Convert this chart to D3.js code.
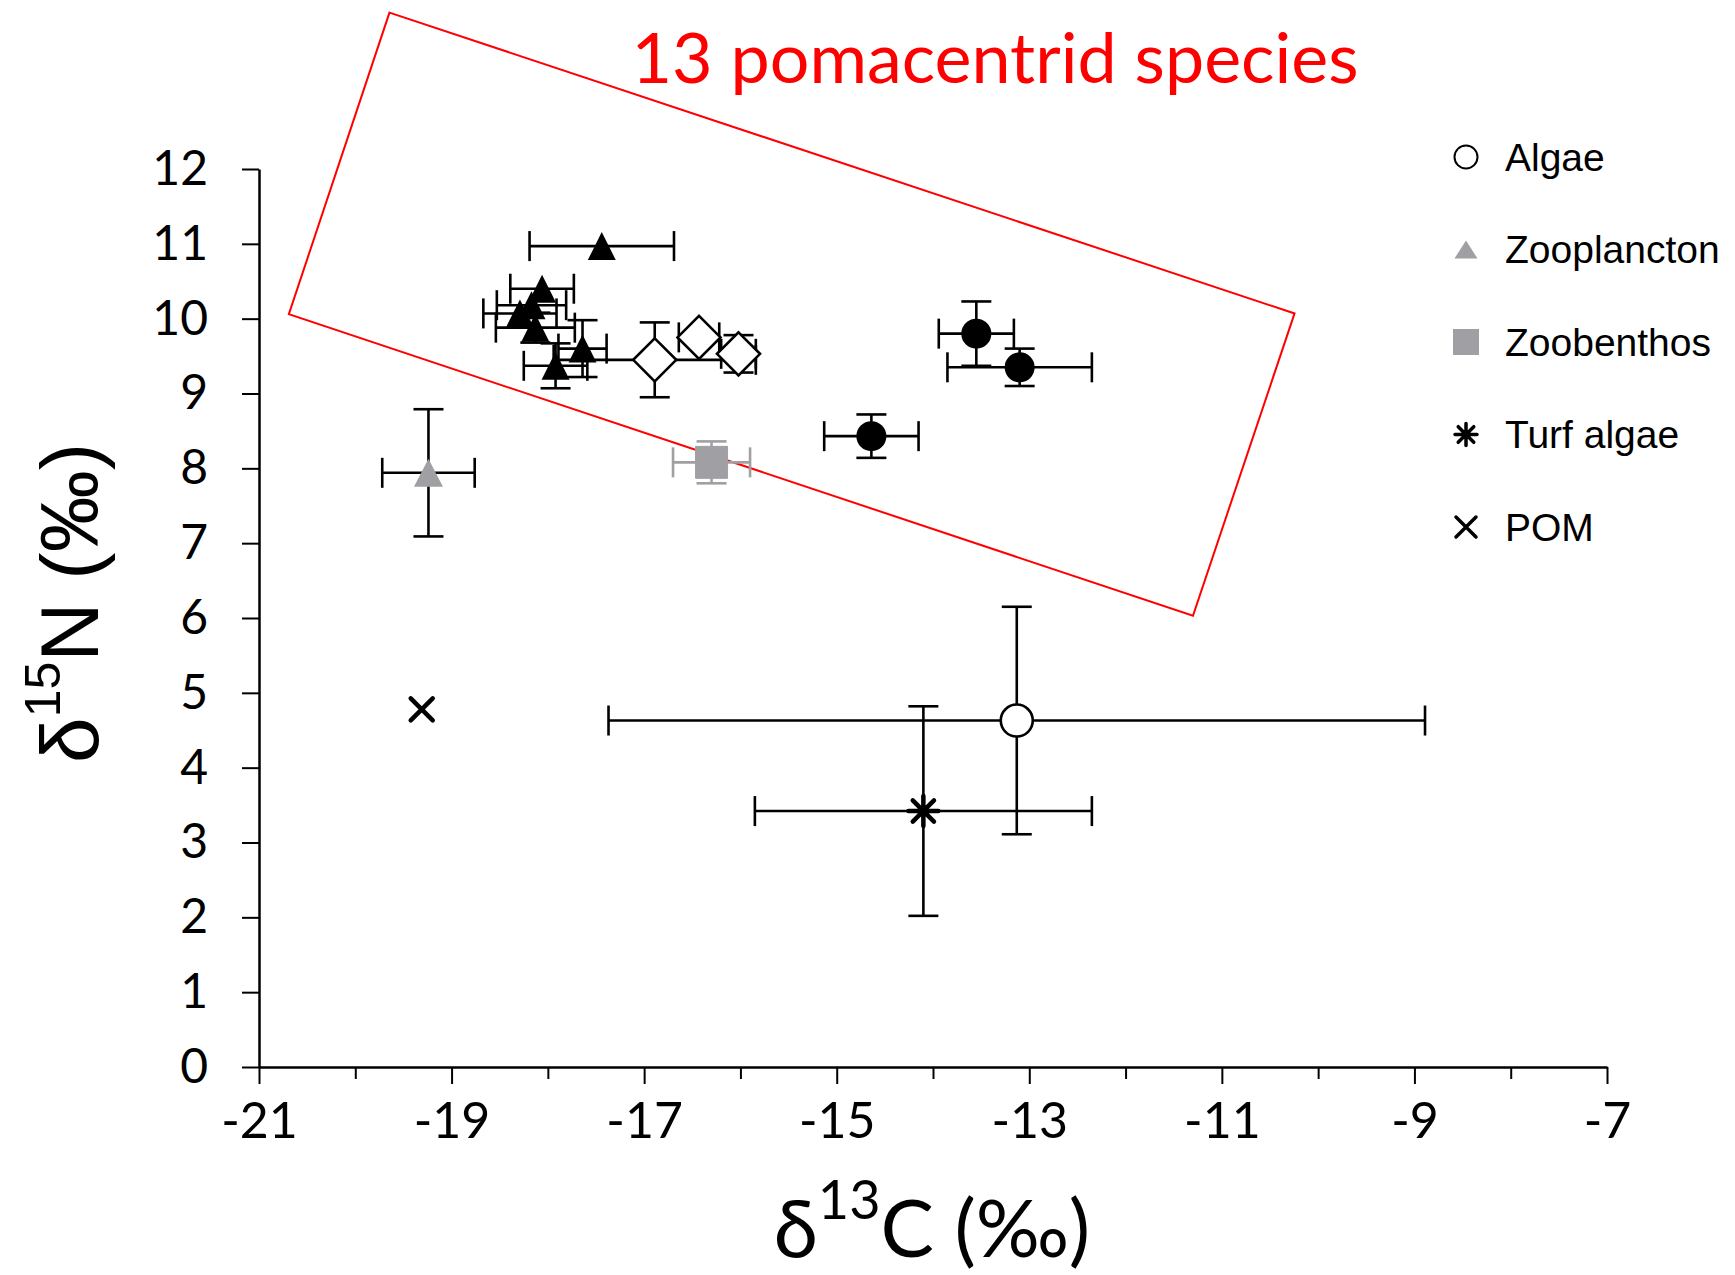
<!DOCTYPE html>
<html><head>
<meta charset="utf-8">
<title>d13C vs d15N - pomacentrids</title>
<script src="https://d3js.org/d3.v7.min.js"></script>
<style>
  body { margin: 0; background: #fff; }
  .axis path, .axis line { stroke: #000; }
  .axis text { font-family: Lato, sans-serif; fill: #000; }
  .legend text { font-family: "Liberation Sans", Arial, sans-serif; font-size: 39px; fill: #000; }
</style>
</head>
<body>
<svg id="chart" width="1735" height="1275"></svg>

<script>
// values: x = d13C, y = d15N, with +/- SD
const pomaTriangles = [
  { x: -17.44, y: 10.97, xerr: 0.75, yerr: 0 },
  { x: -18.06, y: 10.40, xerr: 0.33, yerr: 0 },
  { x: -18.17, y: 10.18, xerr: 0.36, yerr: 0 },
  { x: -18.29, y: 10.07, xerr: 0.38, yerr: 0 },
  { x: -18.13, y: 9.88, xerr: 0.41, yerr: 0.20 },
  { x: -17.64, y: 9.60, xerr: 0.25, yerr: 0.38 },
  { x: -17.92, y: 9.37, xerr: 0.33, yerr: 0.30 }
];
const pomaDiamonds = [
  { x: -16.89, y: 9.45, xerr: 1.05, yerr: 0.50 },
  { x: -16.43, y: 9.75, xerr: 0.21, yerr: 0 },
  { x: -16.02, y: 9.53, xerr: 0.18, yerr: 0.25 }
];
const pomaCircles = [
  { x: -13.55, y: 9.80, xerr: 0.39, yerr: 0.43 },
  { x: -13.10, y: 9.35, xerr: 0.75, yerr: 0.25 },
  { x: -14.64, y: 8.43, xerr: 0.49, yerr: 0.29 }
];
const zooplancton = [ { x: -19.24, y: 7.94, xerr: 0.48, yerr: 0.85 } ];
const zoobenthos  = [ { x: -16.30, y: 8.08, xerr: 0.40, yerr: 0.28 } ];
const algae       = [ { x: -13.13, y: 4.63, xerr: 4.24, yerr: 1.52 } ];
const turfAlgae   = [ { x: -14.10, y: 3.42, xerr: 1.75, yerr: 1.40 } ];
const pom         = [ { x: -19.31, y: 4.78, xerr: 0, yerr: 0 } ];

const legendLabels = ["Algae", "Zooplancton", "Zoobenthos", "Turf algae", "POM"];
const xTickLabels = [-21, -19, -17, -15, -13, -11, -9, -7];
const xMinorTicks = [-20, -18, -16, -14, -12, -10, -8];
const yTickLabels = [0, 1, 2, 3, 4, 5, 6, 7, 8, 9, 10, 11, 12];
// corners of the red "13 species" box, in data units
const boxCorners = [[-19.645, 14.09], [-10.245, 10.07], [-11.30, 6.03], [-20.69, 10.06]];

const svg = d3.select("#chart");
const margin = { left: 259, right: 128, top: 169, bottom: 208 };
const W = +svg.attr("width"), H = +svg.attr("height");
const grey = "#a0a0a4";

const x = d3.scaleLinear().domain([-21, -7]).range([margin.left, W - margin.right]);
const y = d3.scaleLinear().domain([0, 12]).range([H - margin.bottom, margin.top]);

// red annotation box + title
svg.append("path")
   .attr("d", d3.line().x(d => x(d[0])).y(d => y(d[1]))(boxCorners) + "Z")
   .attr("fill", "none").attr("stroke", "#ff0000").attr("stroke-width", 2);

svg.append("text").attr("x", 995).attr("y", 83)
   .attr("text-anchor", "middle")
   .style("font-family", "Lato, sans-serif").style("font-size", "70px")
   .attr("fill", "#ff0000")
   .text("13 pomacentrid species");

// axes (plain hyphen for negatives, like the original)
let yAxis = svg.append("g").attr("class", "axis")
               .attr("transform", "translate(" + margin.left + ",0)")
               .call(d3.axisLeft(y).tickValues(yTickLabels).tickSize(17).tickSizeOuter(0).tickPadding(34));
yAxis.select(".domain").attr("stroke-width", 2.5);
yAxis.selectAll(".tick line").attr("stroke-width", 2);
yAxis.selectAll(".tick text").style("font-size", "48px");

let xAxisMinor = svg.append("g").attr("class", "axis")
                    .attr("transform", "translate(0," + y(0) + ")")
                    .call(d3.axisBottom(x).tickValues(xMinorTicks).tickSize(12).tickSizeOuter(0).tickFormat(""));
xAxisMinor.selectAll(".tick line").attr("stroke-width", 2);

let xAxis = svg.append("g").attr("class", "axis")
               .attr("transform", "translate(0," + y(0) + ")")
               .call(d3.axisBottom(x).tickValues(xTickLabels).tickSize(17).tickSizeOuter(0).tickPadding(18)
                       .tickFormat(d => String(d)));
xAxis.select(".domain").attr("stroke-width", 2.5);
xAxis.selectAll(".tick line").attr("stroke-width", 2);
xAxis.selectAll(".tick text").style("font-size", "50px");

// axis titles
let yTitle = svg.append("text")
                .attr("transform", "translate(98,603) rotate(-90)")
                .attr("text-anchor", "middle")
                .style("font-family", "'Liberation Sans', Arial, sans-serif").style("font-size", "82px");
yTitle.append("tspan").text("δ");
yTitle.append("tspan").attr("dy", -38).style("font-size", "50px").text("15");
yTitle.append("tspan").attr("dy", 38).text("N (‰)");

let xTitle = svg.append("text")
                .attr("x", 932).attr("y", 1257)
                .attr("text-anchor", "middle")
                .style("font-family", "Lato, sans-serif").style("font-size", "80px");
xTitle.append("tspan").text("δ");
xTitle.append("tspan").attr("dy", -38).style("font-size", "54px").text("13");
xTitle.append("tspan").attr("dy", 38).text("C (‰)");

// error bars (drawn before markers so markers sit on top)
const cap = 15;
function errorBars(data, color) {
  let g = svg.append("g").attr("stroke", color).attr("stroke-width", 2.6).attr("fill", "none");
  data.forEach(d => {
    let cx = x(d.x), cy = y(d.y);
    if (d.xerr > 0) {
      let x0 = x(d.x - d.xerr), x1 = x(d.x + d.xerr);
      g.append("line").attr("x1", x0).attr("x2", x1).attr("y1", cy).attr("y2", cy);
      g.append("line").attr("x1", x0).attr("x2", x0).attr("y1", cy - cap).attr("y2", cy + cap);
      g.append("line").attr("x1", x1).attr("x2", x1).attr("y1", cy - cap).attr("y2", cy + cap);
    }
    if (d.yerr > 0) {
      let y0 = y(d.y - d.yerr), y1 = y(d.y + d.yerr);
      g.append("line").attr("x1", cx).attr("x2", cx).attr("y1", y0).attr("y2", y1);
      g.append("line").attr("x1", cx - cap).attr("x2", cx + cap).attr("y1", y0).attr("y2", y0);
      g.append("line").attr("x1", cx - cap).attr("x2", cx + cap).attr("y1", y1).attr("y2", y1);
    }
  });
}

errorBars(algae, "#000");
errorBars(turfAlgae, "#000");
errorBars(zooplancton, "#000");
errorBars(zoobenthos, grey);
errorBars(pomaCircles, "#000");
errorBars(pomaDiamonds, "#000");
errorBars(pomaTriangles, "#000");

// marker shapes
const triPath = (w, h) => "M0," + (-h / 2) + "L" + (w / 2) + "," + (h / 2) + "L" + (-w / 2) + "," + (h / 2) + "Z";
const diaPath = r => "M0," + (-r) + "L" + r + ",0L0," + r + "L" + (-r) + ",0Z";
const starPath = r => {
  let s = r * Math.SQRT1_2;
  return "M0," + (-r) + "V" + r + "M" + (-r) + ",0H" + r +
         "M" + (-s) + "," + (-s) + "L" + s + "," + s + "M" + s + "," + (-s) + "L" + (-s) + "," + s;
};
const crossPath = r => "M" + (-r) + "," + (-r) + "L" + r + "," + r + "M" + r + "," + (-r) + "L" + (-r) + "," + r;

function placed(data) {
  return svg.append("g").selectAll("path").data(data).join("path")
            .attr("transform", d => "translate(" + x(d.x) + "," + y(d.y) + ")");
}

placed(algae).attr("d", d3.arc()({ innerRadius: 0, outerRadius: 16, startAngle: 0, endAngle: 2 * Math.PI }))
  .attr("fill", "#fff").attr("stroke", "#000").attr("stroke-width", 2.6);
placed(turfAlgae).attr("d", starPath(15)).attr("stroke", "#000").attr("stroke-width", 4.5).attr("stroke-linecap", "round");
placed(pom).attr("d", crossPath(11)).attr("stroke", "#000").attr("stroke-width", 4.5).attr("stroke-linecap", "round");
placed(zooplancton).attr("d", triPath(29, 28)).attr("fill", grey);
placed(zoobenthos).attr("d", "M-16,-16H16V16H-16Z").attr("fill", grey).attr("stroke", grey).attr("stroke-width", 1).attr("stroke-linejoin", "round");
placed(pomaCircles).attr("d", d3.arc()({ innerRadius: 0, outerRadius: 15, startAngle: 0, endAngle: 2 * Math.PI }))
  .attr("fill", "#000");
placed(pomaDiamonds).attr("d", diaPath(21.5)).attr("fill", "#fff").attr("stroke", "#000").attr("stroke-width", 2.6);
placed(pomaTriangles).attr("d", triPath(28, 28)).attr("fill", "#000");

// legend
const legendMarks = [
  g => g.append("circle").attr("r", 11.5).attr("fill", "#fff").attr("stroke", "#000").attr("stroke-width", 2),
  g => g.append("path").attr("d", triPath(23, 18)).attr("fill", grey),
  g => g.append("rect").attr("x", -13).attr("y", -13).attr("width", 26).attr("height", 26).attr("fill", grey),
  g => g.append("path").attr("d", starPath(11)).attr("stroke", "#000").attr("stroke-width", 3.5).attr("stroke-linecap", "round"),
  g => g.append("path").attr("d", crossPath(10)).attr("stroke", "#000").attr("stroke-width", 3.5).attr("stroke-linecap", "round")
];
let legend = svg.append("g").attr("class", "legend");
legendLabels.forEach((label, i) => {
  let row = legend.append("g").attr("transform", "translate(1466," + (157 + i * 92.5) + ")");
  legendMarks[i](row);
  row.append("text").attr("x", 39).attr("dy", "0.35em").text(label);
});
</script>
</body>
</html>
